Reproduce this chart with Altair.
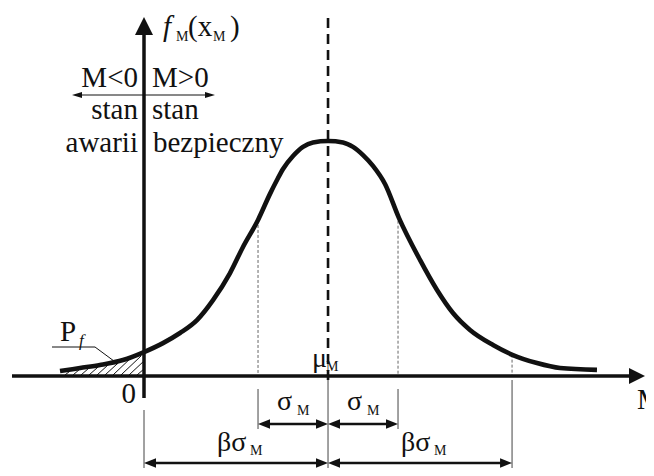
import altair as alt
import pandas as pd
import numpy as np

# ---------------- data ----------------
# density curve: M in units of sigma_M (origin at M = 0), f relative to the peak
curve_M = [-1.2, -0.914, -0.629, -0.3, 0.0, 0.271, 0.514, 0.757, 0.986, 1.229,
           1.414, 1.629, 1.8, 1.9, 1.986, 2.129, 2.271, 2.414, 2.629, 2.843,
           2.986, 3.129, 3.271, 3.443, 3.643, 3.943, 4.186, 4.414, 4.657, 4.986,
           5.271, 5.614, 5.943, 6.471]
curve_f = [0.021, 0.034, 0.047, 0.068, 0.102, 0.140, 0.183, 0.238, 0.323, 0.438,
           0.549, 0.664, 0.775, 0.834, 0.881, 0.936, 0.975, 0.994, 1.0, 0.994,
           0.975, 0.940, 0.894, 0.817, 0.672, 0.494, 0.366, 0.268, 0.196, 0.132,
           0.089, 0.055, 0.034, 0.026]

MU = 2.629          # mu_M
SIGMA = 1.0         # sigma_M
BETA = MU / SIGMA   # reliability index

# hatching of the failure region P_f (segment start on M axis, end under the curve)
hatch_x0 = [-1.129, -1.014, -0.900, -0.786, -0.671, -0.557, -0.443, -0.329, -0.214, -0.100]
hatch_x1 = [-1.057, -0.929, -0.793, -0.657, -0.514, -0.371, -0.186, -0.043, 0.0, 0.0]
hatch_y1 = [0.021, 0.026, 0.032, 0.038, 0.047, 0.055, 0.077, 0.085, 0.064, 0.030]

# ---------------- layout ----------------
W, H = 638, 460
PX_M = 70.0     # pixels per unit of M
PX_F = 235.0    # pixels per unit of f
OX, OY = 136.0, 368.0   # chart pixel of the origin (M=0, f=0)
X_DOM = [-OX / PX_M, (W - OX) / PX_M]
Y_DOM = [-(H - OY) / PX_F, OY / PX_F]
INK = "#111111"
FONT = "Liberation Serif"


def ax(px):   # page pixel -> M units (layout helper for annotations)
    return (px - 8 - OX) / PX_M


def ay(py):   # page pixel -> f units
    return (OY - (py - 8)) / PX_F


def dx(p):
    return p / PX_M


xs = alt.Scale(domain=X_DOM, nice=False, zero=False)
ys = alt.Scale(domain=Y_DOM, nice=False, zero=False)
X = alt.X("x:Q", scale=xs, axis=None)
Y = alt.Y("y:Q", scale=ys, axis=None)


def segs(rows, **mk):
    df = pd.DataFrame(rows, columns=["x", "y", "x2", "y2"])
    return alt.Chart(df).mark_rule(**mk).encode(x=X, y=Y, x2="x2:Q", y2="y2:Q")


def heads(rows, shape, size):
    df = pd.DataFrame(rows, columns=["x", "y"])
    return alt.Chart(df).mark_point(shape=shape, size=size, filled=True, fill=INK,
                                    opacity=1, strokeWidth=0).encode(x=X, y=Y)


def texts(rows, size, align="left", style="normal"):
    df = pd.DataFrame(rows, columns=["x", "y", "t"])
    return alt.Chart(df).mark_text(font=FONT, fontSize=size, align=align,
                                   baseline="alphabetic", fontStyle=style,
                                   color=INK).encode(x=X, y=Y, text="t:N")


RIGHT = "M0,0L-2,-0.8L-2,0.8Z"
LEFT = "M0,0L2,-0.8L2,0.8Z"
RIGHT_BIG = "M0,0L-2,-1L-2,1Z"
UP_BIG = "M0,0L-1,2L1,2Z"
RIGHT_S = "M0,0L-2,-0.6L-2,0.6Z"
LEFT_S = "M0,0L2,-0.6L2,0.6Z"

layers = []

# hatching
layers.append(segs([[a, ay(375), b, c] for a, b, c in zip(hatch_x0, hatch_x1, hatch_y1)],
                   color=INK, strokeWidth=1))

# guide lines at mu +- sigma and mu + beta*sigma (dotted, above axis)
f_at = lambda m: float(np.interp(m, curve_M, curve_f))
layers.append(segs([[MU - SIGMA, f_at(MU - SIGMA), MU - SIGMA, 0],
                    [MU + SIGMA, f_at(MU + SIGMA), MU + SIGMA, 0],
                    [MU + BETA * SIGMA, f_at(MU + BETA * SIGMA), MU + BETA * SIGMA, 0]],
                   color="#666666", strokeWidth=1, strokeDash=[3, 2]))

# extension lines below the axis
layers.append(segs([[MU - SIGMA, ay(389), MU - SIGMA, ay(429)],
                    [MU + SIGMA, ay(389), MU + SIGMA, ay(429)],
                    [0, ay(410), 0, Y_DOM[0]],
                    [MU, ay(380), MU, Y_DOM[0]],
                    [MU + BETA * SIGMA, ay(380), MU + BETA * SIGMA, Y_DOM[0]]],
                   color="#444444", strokeWidth=1))

# dashed line at mu
layers.append(segs([[MU, ay(18), MU, ay(381)]], color=INK, strokeWidth=2.6,
                   strokeDash=[10, 6]))

# axes
layers.append(segs([[ax(12), 0, ax(632), 0], [0, ay(398), 0, ay(33)]],
                   color=INK, strokeWidth=3.5))
layers.append(heads([[ax(645), 0]], RIGHT_BIG, 256))
layers.append(heads([[0, ay(17)]], UP_BIG, 324))

# density curve
cdf = pd.DataFrame({"x": curve_M, "y": curve_f})
layers.append(alt.Chart(cdf).mark_line(color=INK, strokeWidth=4.6, interpolate="monotone",
                                       strokeCap="butt").encode(x=X, y=Y))

# dimension arrows
ys_ = ay(424)
yb_ = ay(463)
hl = dx(11)
layers.append(segs([[MU - SIGMA + hl, ys_, MU - hl, ys_],
                    [MU + hl, ys_, MU + SIGMA - hl, ys_],
                    [0 + hl, yb_, MU - hl, yb_],
                    [MU + hl, yb_, MU + BETA * SIGMA - hl, yb_]],
                   color=INK, strokeWidth=2.6))
layers.append(heads([[MU, ys_], [MU + SIGMA, ys_], [MU, yb_], [MU + BETA * SIGMA, yb_]],
                    RIGHT, 144))
layers.append(heads([[MU - SIGMA, ys_], [MU, ys_], [0, yb_], [MU, yb_]], LEFT, 144))

# sign arrow (top left) and P_f leader
ya = ay(95)
layers.append(segs([[ax(76), ya, ax(211), ya],
                    [ax(52), ay(347), ax(95), ay(347)],
                    [ax(95), ay(347), ax(118), ay(364)]],
                   color=INK, strokeWidth=1))
layers.append(heads([[ax(215), ya]], RIGHT_S, 100))
layers.append(heads([[ax(72), ya]], LEFT_S, 100))

# texts
layers.append(texts([[ax(188), ay(36), "(x"], [ax(230), ay(36), ")"],
                     [ax(152), ay(87), "M>0"], [ax(152), ay(119), "stan"],
                     [ax(153), ay(152), "bezpieczny"], [ax(60), ay(341), "P"],
                     [ax(637), ay(409), "M"]], 29))
layers.append(texts([[ax(138), ay(87), "M<0"], [ax(138), ay(119), "stan"],
                     [ax(138), ay(152), "awarii"], [ax(136), ay(403), "0"]], 29, align="right"))
layers.append(texts([[ax(312), ay(367), "μ"],
                     [MU - SIGMA / 2 - dx(16), ay(410), "σ"],
                     [MU + SIGMA / 2 - dx(16), ay(410), "σ"],
                     [MU / 2 - dx(19), ay(451), "βσ"],
                     [MU + BETA * SIGMA / 2 - dx(19), ay(451), "βσ"]], 28))
layers.append(texts([[ax(176), ay(41), "M"], [ax(213), ay(41), "M"],
                     [ax(326), ay(371), "M"],
                     [MU - SIGMA / 2 + dx(4), ay(415), "M"],
                     [MU + SIGMA / 2 + dx(4), ay(415), "M"],
                     [MU / 2 + dx(14), ay(455), "M"],
                     [MU + BETA * SIGMA / 2 + dx(14), ay(455), "M"]], 14))
layers.append(texts([[ax(163), ay(36), "f"]], 29, style="italic"))
layers.append(texts([[ax(79), ay(346), "f"]], 17, style="italic"))

chart = alt.layer(*layers).properties(
    width=W, height=H, padding=0, autosize="none", background="white"
).configure_view(stroke=None)

chart.save("out.html", embed_options={"renderer": "svg", "actions": False})
